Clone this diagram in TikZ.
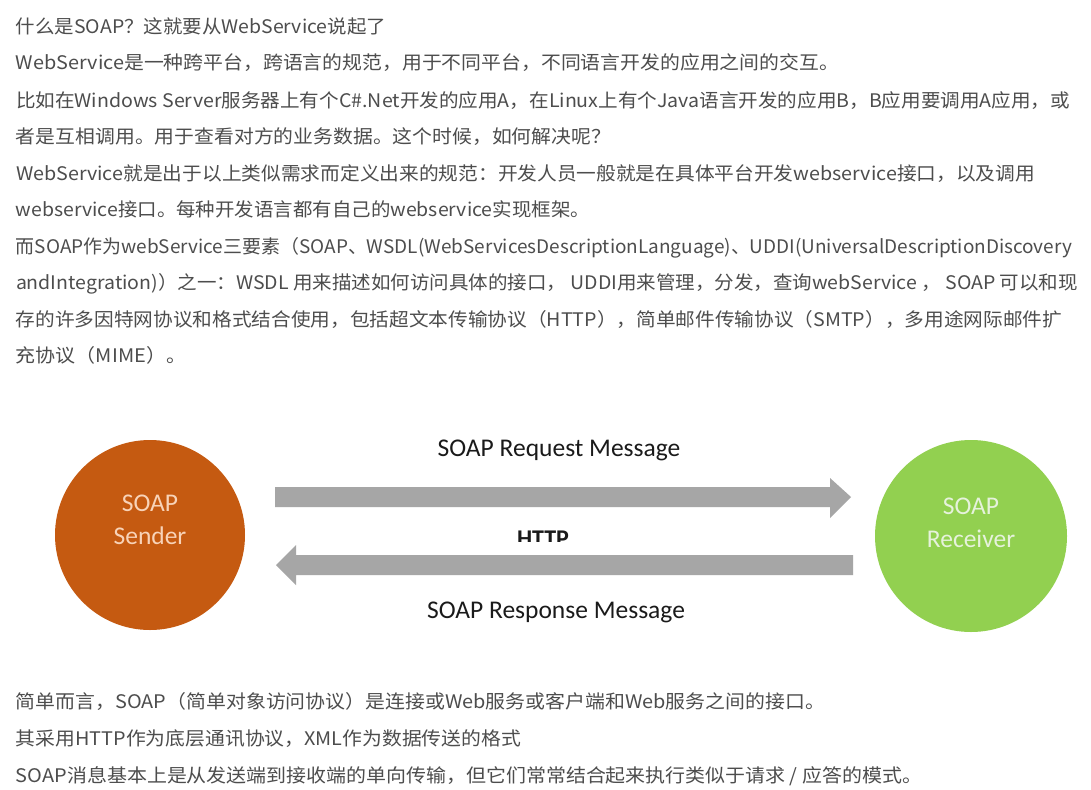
\documentclass[tikz,border=0pt]{standalone}
\usepackage{fontspec}
\usepackage{graphicx}
\setmainfont{Noto Sans CJK SC}
\newfontfamily\diagfont{Carlito}
\definecolor{bodytext}{HTML}{4D4D4D}
\definecolor{senderfill}{HTML}{C55A11}
\definecolor{receiverfill}{HTML}{92D050}
\definecolor{sendertext}{HTML}{F8D3B8}
\definecolor{receivertext}{HTML}{E6F2DC}
\definecolor{arrowgray}{HTML}{A6A6A6}
\definecolor{labeltext}{HTML}{1A1A1A}
\newsavebox\fitbox
\newlength\fitlen
\newcommand\fitline[2]{\sbox\fitbox{#2}\setlength\fitlen{\wd\fitbox}\pgfmathsetmacro\fitratio{#1/\fitlen}\scalebox{\fitratio}[1]{\usebox\fitbox}}
\begin{document}
\begin{tikzpicture}[x=1pt,y=-1pt,
  bodyline/.style={anchor=base west, inner sep=0pt, outer sep=0pt, text=bodytext, font=\fontsize{18.7}{22}\selectfont},
  circnode/.style={circle, inner sep=0pt, minimum size=#1},
  circtext/.style={align=center, inner sep=0pt, font=\diagfont\fontsize{25.5}{33}\selectfont},
  msglabel/.style={anchor=base, inner sep=0pt, text=labeltext, font=\diagfont\fontsize{25.5}{30}\selectfont},
  blockarrow/.style={fill=arrowgray}
]
\fill[white] (0,0) rectangle (1091,789);
\useasboundingbox (0,0) rectangle (1091,789);

% body text, upper part
\node[bodyline] (l1) at (16,33.5) {\fitline{370}{什么是SOAP？这就要从WebService说起了}};
\node[bodyline] (l2) at (16,70) {\fitline{823}{WebService是一种跨平台，跨语言的规范，用于不同平台，不同语言开发的应用之间的交互。}};
\node[bodyline] (l3) at (16,107) {\fitline{1054}{比如在Windows Server服务器上有个C\#.Net开发的应用A，在Linux上有个Java语言开发的应用B，B应用要调用A应用，或}};
\node[bodyline] (l4) at (16,143.5) {\fitline{595}{者是互相调用。用于查看对方的业务数据。这个时候，如何解决呢？}};
\node[bodyline] (l5) at (16,180) {\fitline{1019}{WebService就是出于以上类似需求而定义出来的规范：开发人员一般就是在具体平台开发webservice接口，以及调用}};
\node[bodyline] (l6) at (16,216.5) {\fitline{574}{webservice接口。每种开发语言都有自己的webservice实现框架。}};
\node[bodyline] (l7) at (16,253) {\fitline{1056}{而SOAP作为webService三要素（SOAP、WSDL(WebServicesDescriptionLanguage)、UDDI(UniversalDescriptionDiscovery}};
\node[bodyline] (l8) at (16,289.5) {\fitline{1062}{andIntegration)）之一：WSDL 用来描述如何访问具体的接口， UDDI用来管理，分发，查询webService ， SOAP 可以和现}};
\node[bodyline] (l9) at (16,326) {\fitline{1046}{存的许多因特网协议和格式结合使用，包括超文本传输协议（HTTP），简单邮件传输协议（SMTP），多用途网际邮件扩}};
\node[bodyline] (l10) at (16,362.5) {\fitline{170}{充协议（MIME）。}};

% diagram
\node[circnode=190, fill=senderfill] (sender) at (150,535) {};
\node[circnode=192, fill=receiverfill] (receiver) at (971,536) {};
\node[circtext, text=sendertext] (sendertxt) at (150,520.3) {SOAP\\Sender};
\node[circtext, text=receivertext] (receivertxt) at (971,523.3) {SOAP\\Receiver};

\coordinate (reqtail) at (275,497);
\coordinate (reqtip) at (851,497);
\coordinate (restail) at (853,565);
\coordinate (restip) at (276,565);
\fill[blockarrow] (reqtail) ++(0,-10) -- (830,487) -- (830,478) -- (reqtip) -- (830,518) -- (830,507) -- (275,507) -- cycle;
\fill[blockarrow] (restail) ++(0,-10) -- (296,555) -- (296,545) -- (restip) -- (296,585) -- (296,575) -- (853,575) -- cycle;

\node[msglabel] (reqlabel) at (559,456) {SOAP Request Message};
\node[msglabel] (reslabel) at (556,618) {SOAP Response Message};
\begin{scope}
\clip (490,520) rectangle (600,541);
\node[anchor=base, inner sep=0pt, text=labeltext, font=\diagfont\bfseries\fontsize{24}{28}\selectfont] (httplabel) at (543,546) {HTTP};
\end{scope}

% body text, lower part
\node[bodyline] (l11) at (16,708) {\fitline{809}{简单而言，SOAP（简单对象访问协议）是连接或Web服务或客户端和Web服务之间的接口。}};
\node[bodyline] (l12) at (16,745) {\fitline{505}{其采用HTTP作为底层通讯协议，XML作为数据传送的格式}};
\node[bodyline] (l13) at (16,782) {\fitline{906}{SOAP消息基本上是从发送端到接收端的单向传输，但它们常常结合起来执行类似于请求 / 应答的模式。}};
\end{tikzpicture}
\end{document}
